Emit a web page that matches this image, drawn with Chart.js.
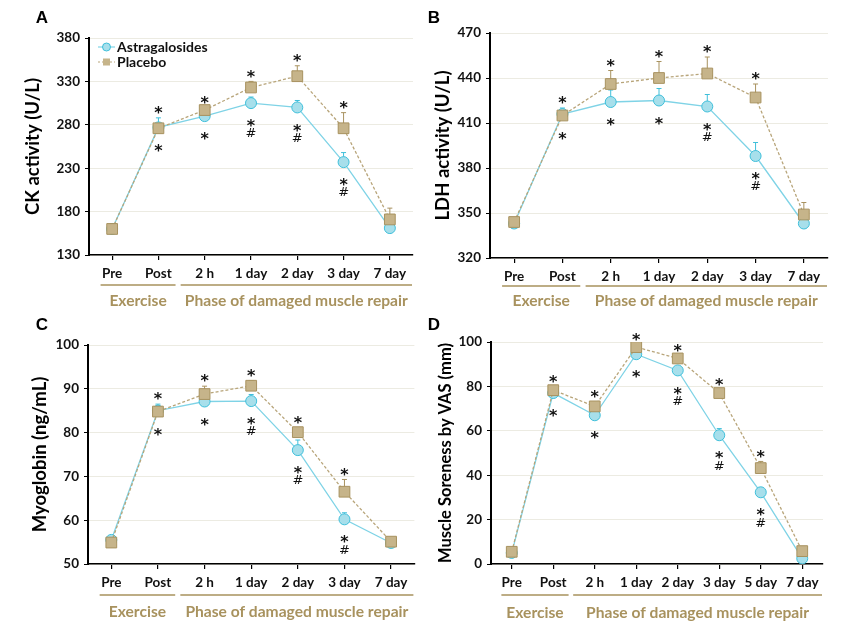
<!DOCTYPE html>
<html>
<head>
<meta charset="utf-8">
<script src="https://cdn.jsdelivr.net/npm/chart.js@4.4.1/dist/chart.umd.min.js"></script>
<style>
  html, body { margin: 0; padding: 0; background: #fff; }
  #wrap { position: relative; width: 846px; height: 634px; }
  .panel { position: absolute; width: 423px; height: 317px; }
</style>
</head>
<body>
<div id="wrap">
  <div class="panel" style="left:0;top:0"><canvas id="cA" width="423" height="317"></canvas></div>
  <div class="panel" style="left:423px;top:0"><canvas id="cB" width="423" height="317"></canvas></div>
  <div class="panel" style="left:0;top:317px"><canvas id="cC" width="423" height="317"></canvas></div>
  <div class="panel" style="left:423px;top:317px"><canvas id="cD" width="423" height="317"></canvas></div>
</div>
<script>
// time points
const labels7 = ["Pre", "Post", "2 h", "1 day", "2 day", "3 day", "7 day"];
const labels8 = ["Pre", "Post", "2 h", "1 day", "2 day", "3 day", "5 day", "7 day"];

// A: CK activity (U/L)
const ckTicks = [130, 380, 50];
const ckAstra = [160, 277, 290, 305, 300, 237, 161];
const ckAstraErr = [2, 11, 3, 7, 8, 11, 3];
const ckPlacebo = [160, 276, 297, 323, 336, 276, 171];
const ckPlaceboErr = [2, 3, 3, 7, 12, 18, 13];
const ckAstraSig = ["", "*", "*", "*#", "*#", "*#", ""];
const ckPlaceboSig = ["", "*", "*", "*", "*", "*", ""];

// B: LDH activity (U/L)
const ldhTicks = [320, 470, 30];
const ldhAstra = [343, 416, 424, 425, 421, 388, 343];
const ldhAstraErr = [2, 4, 8, 8, 8, 9, 2];
const ldhPlacebo = [344, 415, 436, 440, 443, 427, 349];
const ldhPlaceboErr = [3, 4, 9, 11, 11, 9, 8];
const ldhAstraSig = ["", "*", "*", "*", "*#", "*#", ""];
const ldhPlaceboSig = ["", "*", "*", "*", "*", "*", ""];

// C: Myoglobin (ng/mL)
const myoTicks = [50, 100, 10];
const myoAstra = [55.5, 85, 87.1, 87.2, 76, 60.2, 54.8];
const myoAstraErr = [0.5, 1.5, 1, 1.5, 2.3, 1.5, 0.5];
const myoPlacebo = [54.9, 84.8, 88.8, 90.7, 80.1, 66.5, 55.1];
const myoPlaceboErr = [0.5, 1, 1.8, 1.2, 1, 2.8, 0.5];
const myoAstraSig = ["", "*", "*", "*#", "*#", "*#", ""];
const myoPlaceboSig = ["", "*", "*", "*", "*", "*", ""];

// D: Muscle soreness by VAS (mm)
const vasTicks = [0, 100, 20];
const vasAstra = [5, 77, 67, 94.5, 87.2, 58, 32.3, 2.5];
const vasAstraErr = [1, 1.5, 1.5, 1.5, 1.5, 3, 2, 1];
const vasPlacebo = [5.5, 78.3, 71, 97.7, 92.6, 77, 43.2, 5.8];
const vasPlaceboErr = [1, 1.5, 2, 1, 1, 1.5, 3, 1];
const vasAstraSig = ["", "*", "*", "*", "*#", "*#", "*#", ""];
const vasPlaceboSig = ["", "*", "*", "*", "*", "*", "*", ""];

const FONT = "Lato, 'Open Sans', sans-serif";
const SIGFONT = "'DejaVu Sans', sans-serif";
const GOLD = "#a8925e";
const CYAN_LINE = "#7fd3e6";
const CYAN_FILL = "#a7dfeb";
const CYAN_EDGE = "#3fbfda";
const TAN_LINE = "#b8a57a";
const TAN_FILL = "#c6b48a";
const TAN_EDGE = "#a8925f";

function makeDecor(p) {
  return {
    id: "decor",
    beforeDatasetsDraw(chart) {
      const ctx = chart.ctx;
      const y = chart.scales.y;
      const sets = [[p.astra, p.astraErr, CYAN_EDGE], [p.placebo, p.placeboErr, TAN_EDGE]];
      ctx.save();
      ctx.lineWidth = 1;
      sets.forEach(([vals, errs, col], di) => {
        const meta = chart.getDatasetMeta(di);
        ctx.strokeStyle = col;
        vals.forEach((v, j) => {
          const pt = meta.data[j];
          const top = y.getPixelForValue(v + errs[j]);
          ctx.beginPath();
          ctx.moveTo(pt.x, pt.y);
          ctx.lineTo(pt.x, top);
          ctx.moveTo(pt.x - 2.5, top);
          ctx.lineTo(pt.x + 2.5, top);
          ctx.stroke();
        });
      });
      ctx.restore();
    },
    afterDatasetsDraw(chart) {
      const ctx = chart.ctx;
      const y = chart.scales.y;
      const m0 = chart.getDatasetMeta(0), m1 = chart.getDatasetMeta(1);
      ctx.save();
      ctx.fillStyle = "#111";
      ctx.textAlign = "center";
      ctx.textBaseline = "middle";
      p.astra.forEach((v, j) => {
        const x = m0.data[j].x;
        const topPix = Math.min(y.getPixelForValue(v + p.astraErr[j]), y.getPixelForValue(p.placebo[j] + p.placeboErr[j]));
        const botPix = Math.max(m0.data[j].y, m1.data[j].y);
        ctx.font = "bold 16px " + SIGFONT;
        if (p.placeboSig[j].includes("*")) ctx.fillText("*", x, topPix - 4);
        if (p.astraSig[j].includes("*")) ctx.fillText("*", x, botPix + 24);
        if (p.astraSig[j].includes("#")) {
          ctx.font = "13px " + SIGFONT;
          ctx.fillText("#", x, botPix + 31);
        }
      });
      ctx.restore();
    },
    afterDraw(chart) {
      const ctx = chart.ctx;
      const xs = chart.scales.x;
      const area = chart.chartArea;
      const band = xs.getPixelForValue(1) - xs.getPixelForValue(0);
      const mid = (xs.getPixelForValue(1) + xs.getPixelForValue(2)) / 2;
      const e0 = xs.getPixelForValue(0) - 0.25 * band, e1 = mid - 0.13 * band;
      const f0 = mid - 0.02 * band, f1 = area.right - 1;
      ctx.save();
      ctx.strokeStyle = GOLD;
      ctx.lineWidth = 1.3;
      ctx.beginPath();
      ctx.moveTo(e0, p.lineY); ctx.lineTo(e1, p.lineY);
      ctx.moveTo(f0, p.lineY); ctx.lineTo(f1, p.lineY);
      ctx.stroke();
      ctx.fillStyle = GOLD;
      ctx.font = "bold 15.6px " + FONT;
      ctx.textAlign = "center";
      ctx.textBaseline = "middle";
      ctx.fillText("Exercise", (e0 + e1) / 2, p.textY);
      ctx.fillText("Phase of damaged muscle repair", (f0 + f1) / 2, p.textY);
      // panel letter
      ctx.fillStyle = "#000";
      ctx.font = "bold 17px Arial, 'Liberation Sans', sans-serif";
      ctx.fillText(p.letter, p.letterX, p.letterY);
      if (p.legend) {
        const lx = area.left + 9, ly1 = area.top + 9, ly2 = area.top + 24;
        ctx.lineWidth = 1.2;
        ctx.strokeStyle = CYAN_LINE;
        ctx.beginPath(); ctx.moveTo(lx, ly1); ctx.lineTo(lx + 17, ly1); ctx.stroke();
        ctx.fillStyle = CYAN_FILL; ctx.strokeStyle = CYAN_EDGE; ctx.lineWidth = 1;
        ctx.beginPath(); ctx.arc(lx + 8.5, ly1, 4, 0, Math.PI * 2); ctx.fill(); ctx.stroke();
        ctx.strokeStyle = TAN_LINE; ctx.setLineDash([2, 2]);
        ctx.beginPath(); ctx.moveTo(lx, ly2); ctx.lineTo(lx + 17, ly2); ctx.stroke();
        ctx.setLineDash([]);
        ctx.fillStyle = TAN_FILL;
        ctx.fillRect(lx + 5, ly2 - 3.5, 7, 7);
        ctx.fillStyle = "#111";
        ctx.font = "bold 14px " + FONT;
        ctx.textAlign = "left";
        ctx.fillText("Astragalosides", lx + 19, ly1);
        ctx.fillText("Placebo", lx + 19, ly2);
      }
      ctx.restore();
    }
  };
}

function drawPanel(id, p) {
  new Chart(document.getElementById(id), {
    type: "line",
    data: {
      labels: p.labels,
      datasets: [
        {
          label: "Astragalosides",
          data: p.astra,
          order: 1,
          borderColor: CYAN_LINE,
          borderWidth: 1.3,
          pointStyle: "circle",
          pointRadius: 5.5,
          pointBorderWidth: 1,
          pointBackgroundColor: CYAN_FILL,
          pointBorderColor: CYAN_EDGE,
          tension: 0,
        },
        {
          label: "Placebo",
          data: p.placebo,
          order: 0,
          borderColor: TAN_LINE,
          borderWidth: 1.3,
          borderDash: [3, 2],
          pointStyle: "rect",
          pointRadius: 7.6,
          pointBorderWidth: 1,
          pointBackgroundColor: TAN_FILL,
          pointBorderColor: TAN_EDGE,
          tension: 0,
        },
      ],
    },
    options: {
      responsive: false,
      animation: false,
      events: [],
      layout: { padding: { left: 0, top: p.top, right: p.right, bottom: p.bottom } },
      plugins: { legend: { display: false }, tooltip: { enabled: false } },
      scales: {
        x: {
          offset: true,
          grid: { drawOnChartArea: false, offset: false, tickLength: 5, color: "#000", lineWidth: 1.2 },
          border: { color: "#000", width: 1.6 },
          ticks: { font: { family: FONT, weight: "bold", size: 13.5 }, color: "#111", padding: 6, maxRotation: 0, autoSkip: false },
          afterFit: (s) => { s.height = 26; },
        },
        y: {
          min: p.ticks[0],
          max: p.ticks[1],
          ticks: { stepSize: p.ticks[2], font: { family: FONT, weight: "bold", size: 13.5 }, color: "#111", padding: 5 },
          grid: { color: "#ecebe2", lineWidth: 1, tickColor: "#000", tickLength: 4 },
          border: { color: "#000", width: 2 },
          title: { display: true, text: p.title, font: { family: FONT, weight: "bold", size: p.titleSize }, color: "#000", padding: { top: p.titlePad, bottom: 0 } },
          afterFit: (s) => { s.width = p.left; },
        },
      },
    },
    plugins: [makeDecor(p)],
  });
}

drawPanel("cA", {
  labels: labels7, ticks: ckTicks, title: "CK activity (U/L)", titleSize: 18.5, titlePad: 22,
  astra: ckAstra, astraErr: ckAstraErr, placebo: ckPlacebo, placeboErr: ckPlaceboErr,
  astraSig: ckAstraSig, placeboSig: ckPlaceboSig,
  left: 89, right: 10, top: 38, bottom: 36, lineY: 285, textY: 301,
  letter: "A", letterX: 42, letterY: 18, legend: true,
});
drawPanel("cB", {
  labels: labels7, ticks: ldhTicks, title: "LDH activity (U/L)", titleSize: 18.5, titlePad: 9,
  astra: ldhAstra, astraErr: ldhAstraErr, placebo: ldhPlacebo, placeboErr: ldhPlaceboErr,
  astraSig: ldhAstraSig, placeboSig: ldhPlaceboSig,
  left: 67, right: 18, top: 33, bottom: 33, lineY: 286, textY: 301,
  letter: "B", letterX: 11, letterY: 18, legend: false,
});
drawPanel("cC", {
  labels: labels7, ticks: myoTicks, title: "Myoglobin (ng/mL)", titleSize: 18.5, titlePad: 29,
  astra: myoAstra, astraErr: myoAstraErr, placebo: myoPlacebo, placeboErr: myoPlaceboErr,
  astraSig: myoAstraSig, placeboSig: myoPlaceboSig,
  left: 88, right: 0, top: 28, bottom: 44, lineY: 278, textY: 295,
  letter: "C", letterX: 42, letterY: 8, legend: false,
});
drawPanel("cD", {
  labels: labels8, ticks: vasTicks, title: "Muscle Soreness by VAS (mm)", titleSize: 16.5, titlePad: 13,
  astra: vasAstra, astraErr: vasAstraErr, placebo: vasPlacebo, placeboErr: vasPlaceboErr,
  astraSig: vasAstraSig, placeboSig: vasPlaceboSig,
  left: 68, right: 23, top: 25, bottom: 44, lineY: 278, textY: 296,
  letter: "D", letterX: 11, letterY: 8, legend: false,
});
</script>
</body>
</html>
